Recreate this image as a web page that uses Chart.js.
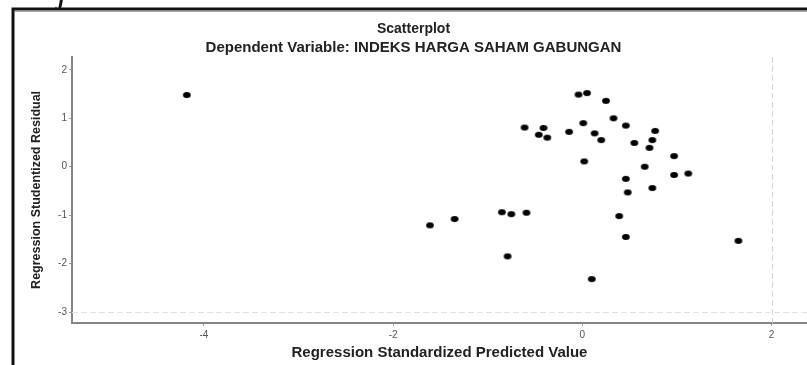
<!DOCTYPE html>
<html>
<head>
<meta charset="utf-8">
<script src="https://cdn.jsdelivr.net/npm/chart.js@4/dist/chart.umd.min.js"></script>
<style>
  html, body { margin: 0; padding: 0; background: #fff; }
  #wrap { position: relative; width: 807px; height: 365px; overflow: hidden; }
  #frag { position: absolute; left: 58px; top: -11px; font: italic bold 17px "DejaVu Serif", serif; color: #111; }
</style>
</head>
<body>
<div id="wrap">
  <canvas id="c" width="807" height="365"></canvas>
  <span id="frag">j</span>
</div>
<script>
const chartTitle = "Scatterplot";
const chartSubtitle = "Dependent Variable: INDEKS HARGA SAHAM GABUNGAN";
const xAxisTitle = "Regression Standardized Predicted Value";
const yAxisTitle = "Regression Studentized Residual";

const xTickValues = [-4, -2, 0, 2];
const yTickValues = [-3, -2, -1, 0, 1, 2];
const xRefLine = 2;
const yRefLine = -3;

const predicted = [-4.18, -0.04, 0.05, 0.25, 0.33, 0.46, -0.61, -0.41, -0.46, -0.37, -0.14, 0.01,
  0.13, 0.20, 0.55, 0.77, 0.74, 0.71, 0.02, 0.97, 0.66, 0.97, 1.12, 0.46, 0.48, 0.74,
  -1.35, -0.85, -0.75, -0.59, 0.39, 0.46, -0.79, 0.10, -1.61, 1.65];
const residual = [1.48, 1.49, 1.52, 1.36, 1.00, 0.85, 0.81, 0.80, 0.66, 0.60, 0.72, 0.90,
  0.69, 0.55, 0.49, 0.74, 0.55, 0.39, 0.11, 0.22, 0.00, -0.17, -0.14, -0.25, -0.53, -0.44,
  -1.08, -0.94, -0.98, -0.95, -1.02, -1.45, -1.85, -2.32, -1.21, -1.53];

const points = predicted.map((x, i) => ({ x: x, y: residual[i] }));

// elliptical dot marker
const dot = document.createElement('canvas');
dot.width = 10; dot.height = 8;
(function () {
  const g = dot.getContext('2d');
  g.fillStyle = '#000';
  g.beginPath();
  g.ellipse(5, 4, 3.9, 3.0, 0, 0, Math.PI * 2);
  g.fill();
})();

const framePlugin = {
  id: 'frame',
  beforeDraw(chart) {
    const ctx = chart.ctx;
    ctx.save();
    ctx.strokeStyle = '#111';
    ctx.lineWidth = 3;
    ctx.beginPath();
    ctx.moveTo(13, 365);
    ctx.lineTo(13, 9);
    ctx.lineTo(807, 9);
    ctx.stroke();
    ctx.strokeStyle = 'rgba(0,0,0,0.35)';
    ctx.lineWidth = 1;
    ctx.beginPath();
    ctx.moveTo(15, 11.5);
    ctx.lineTo(807, 11.5);
    ctx.stroke();
    ctx.restore();
  },
  beforeDatasetsDraw(chart) {
    const ctx = chart.ctx;
    const a = chart.chartArea;
    const xs = chart.scales.x, ys = chart.scales.y;
    ctx.save();
    ctx.strokeStyle = '#d4d4d4';
    ctx.lineWidth = 1;
    ctx.setLineDash([6, 3]);
    const px = Math.round(xs.getPixelForValue(xRefLine)) + 0.5;
    ctx.beginPath();
    ctx.moveTo(px, a.top);
    ctx.lineTo(px, a.bottom);
    ctx.stroke();
    ctx.strokeStyle = '#e2e2e2';
    const py = Math.round(ys.getPixelForValue(yRefLine)) + 0.5;
    ctx.beginPath();
    ctx.moveTo(a.left, py);
    ctx.lineTo(a.right, py);
    ctx.stroke();
    ctx.restore();
  }
};

new Chart(document.getElementById('c'), {
  type: 'scatter',
  data: {
    datasets: [{
      data: points,
      pointStyle: dot,
      pointRadius: 4,
      backgroundColor: '#000',
      borderColor: '#000'
    }]
  },
  options: {
    responsive: false,
    animation: false,
    devicePixelRatio: 1,
    layout: { autoPadding: false, padding: { left: 20, right: 0, top: 0, bottom: 0 } },
    plugins: {
      legend: { display: false },
      tooltip: { enabled: false },
      title: {
        display: true,
        text: chartTitle,
        color: '#222',
        font: { family: 'Liberation Sans, Arial, sans-serif', size: 14, weight: 'bold' },
        padding: { top: 21, bottom: 1 }
      },
      subtitle: {
        display: true,
        text: chartSubtitle,
        color: '#222',
        font: { family: 'Liberation Sans, Arial, sans-serif', size: 15, weight: 'bold' },
        padding: { top: 0, bottom: 0 }
      }
    },
    scales: {
      x: {
        type: 'linear',
        min: -5.394,
        max: 2.375,
        afterBuildTicks: (s) => { s.ticks = xTickValues.map(v => ({ value: v })); },
        afterFit: (s) => { s.height = 42; },
        ticks: {
          color: '#555',
          font: { family: 'Liberation Sans, Arial, sans-serif', size: 10 },
          padding: 3,
          maxRotation: 0
        },
        grid: { color: 'transparent', tickColor: '#999', tickLength: 3, drawOnChartArea: false },
        border: { color: '#858585', width: 2 },
        title: {
          display: true,
          text: xAxisTitle,
          color: '#222',
          font: { family: 'Liberation Sans, Arial, sans-serif', size: 15, weight: 'bold' },
          padding: { top: 0, bottom: 3 }
        }
      },
      y: {
        type: 'linear',
        min: -3.227,
        max: 2.27,
        afterBuildTicks: (s) => { s.ticks = yTickValues.map(v => ({ value: v })); },
        afterFit: (s) => { s.width = 52; },
        ticks: {
          color: '#555',
          font: { family: 'Liberation Sans, Arial, sans-serif', size: 10 },
          padding: 2
        },
        grid: { color: 'transparent', tickColor: '#999', tickLength: 3, drawOnChartArea: false },
        border: { color: '#858585', width: 2 },
        title: {
          display: true,
          text: yAxisTitle,
          color: '#222',
          font: { family: 'Liberation Sans, Arial, sans-serif', size: 12.5, weight: 'bold' },
          padding: { top: 9, bottom: 0 }
        }
      }
    }
  },
  plugins: [framePlugin]
});
</script>
</body>
</html>
